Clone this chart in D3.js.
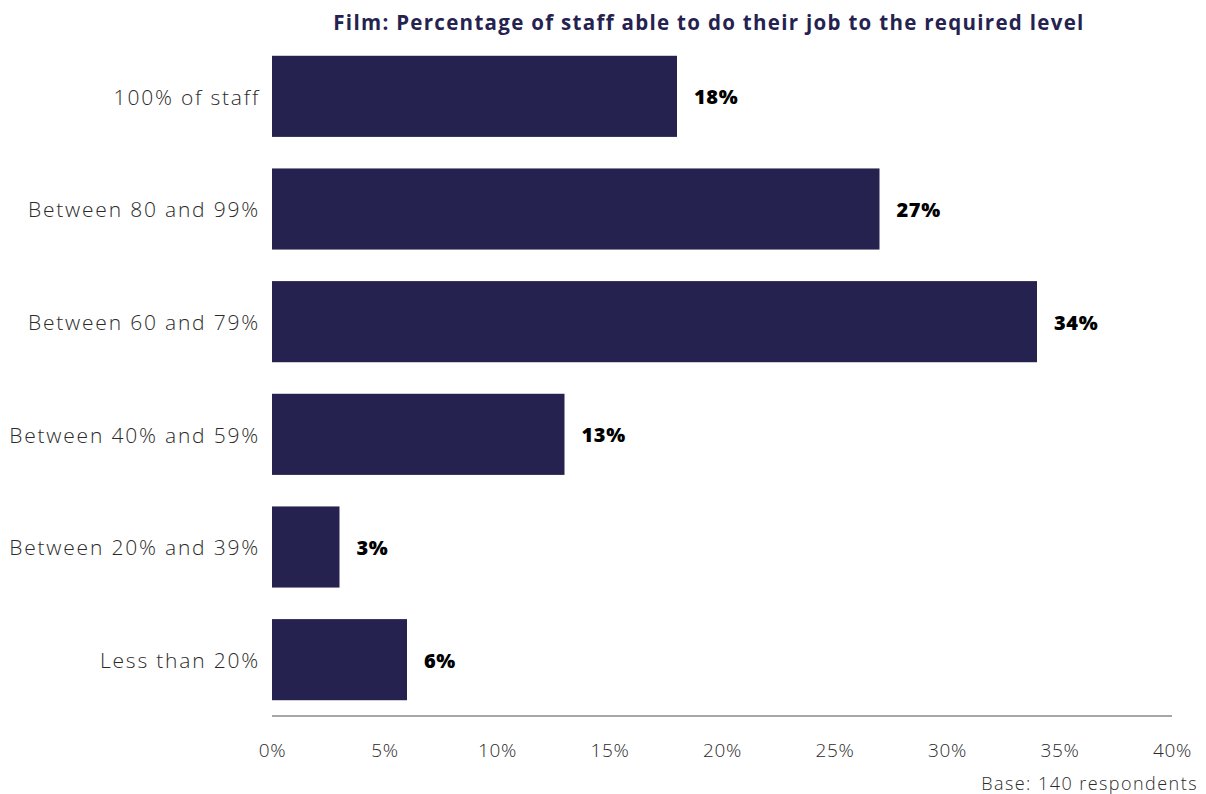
<!DOCTYPE html>
<html><head><meta charset="utf-8">
<script src="https://cdn.jsdelivr.net/npm/d3@7"></script>
<style>
body{margin:0;background:#fff;}
svg text{font-family:"Open Sans","Lato",sans-serif;}
</style></head>
<body><svg id="chart" width="1206" height="794"></svg>
<script>
const categories = ["100% of staff","Between 80 and 99%","Between 60 and 79%","Between 40% and 59%","Between 20% and 39%","Less than 20%"];
const values = [18,27,34,13,3,6];
const xTicks = [0,5,10,15,20,25,30,35,40];
const title = "Film: Percentage of staff able to do their job to the required level";
const note = "Base: 140 respondents";

const svg = d3.select("#chart");
const x = d3.scaleLinear().domain([0,40]).range([272,1172]);
const y = d3.scaleBand().domain(categories).range([40,716]).paddingInner(0.28).paddingOuter(0.14);

svg.append("text").attr("x",709).attr("y",30).attr("text-anchor","middle")
  .attr("font-size",20.5).attr("font-weight",700).attr("letter-spacing",1.3)
  .attr("fill","#25224f").text(title);

svg.selectAll("rect.bar").data(values).join("rect").attr("class","bar")
  .attr("x",x(0)).attr("y",(d,i)=>y(categories[i]))
  .attr("width",d=>x(d)-x(0)).attr("height",y.bandwidth()).attr("fill","#25224f");

svg.selectAll("text.val").data(values).join("text").attr("class","val")
  .attr("x",d=>x(d)+17).attr("y",(d,i)=>y(categories[i])+y.bandwidth()/2+1)
  .attr("dy","0.35em").attr("font-size",20).attr("font-weight",800).attr("letter-spacing",0.6)
  .attr("fill","#000").text(d=>d+"%");

const yAxis = svg.append("g").attr("transform",`translate(${x(0)},0)`)
  .call(d3.axisLeft(y).tickSize(0).tickPadding(12));
yAxis.select(".domain").remove();
yAxis.selectAll("text").attr("font-size",21).attr("font-weight",300).attr("fill","#2b2b2b")
  .attr("letter-spacing",1.8).attr("dy","0.4em")
  .style("font-family",'"Open Sans","Lato",sans-serif');

svg.append("line").attr("x1",x(0)).attr("x2",x(40)).attr("y1",716).attr("y2",716)
  .attr("stroke","#a6a6a6").attr("stroke-width",2);

const xAxis = svg.append("g").attr("transform","translate(0,716)")
  .call(d3.axisBottom(x).tickValues(xTicks).tickFormat(d=>d+"%").tickSize(0).tickPadding(28));
xAxis.select(".domain").remove();
xAxis.selectAll("text").attr("font-size",19).attr("font-weight",300).attr("fill","#2b2b2b")
  .attr("letter-spacing",0.6)
  .style("font-family",'"Open Sans","Lato",sans-serif');

svg.append("text").attr("x",1198).attr("y",790).attr("text-anchor","end")
  .attr("font-size",18).attr("font-weight",300).attr("letter-spacing",1.45)
  .attr("fill","#2b2b2b").text(note);
</script></body></html>
